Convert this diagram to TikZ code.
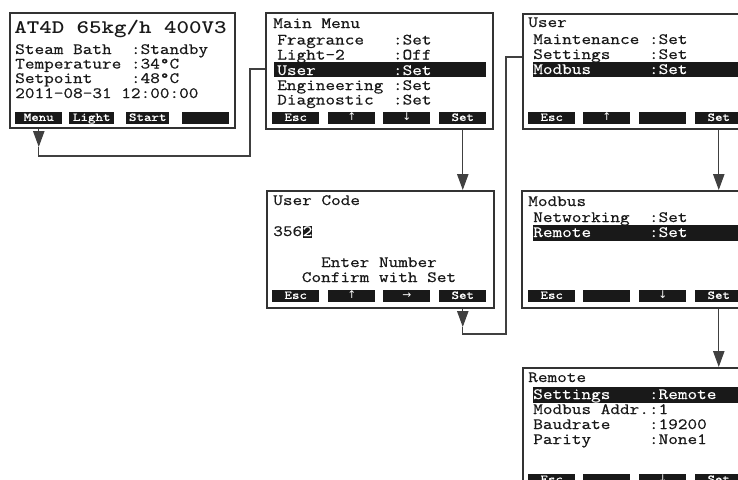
\documentclass[tikz,border=0pt]{standalone}
\usepackage{fontspec}
\newfontfamily\lcd[FakeStretch=1.19,FakeBold=0.6]{Latin Modern Mono}
\newfontfamily\lcdb[FakeStretch=1.24]{lmmonolt10-bold.otf}
\newfontfamily\lcdbtn[FakeStretch=1.19,FakeBold=0.5]{Latin Modern Mono}
\newfontfamily\arrfont{DejaVu Sans}
\usetikzlibrary{arrows.meta}
\newcommand\lcdN{\lcd\fontsize{11.8pt}{14pt}\selectfont}
\newcommand\lcdT{\lcdb\fontsize{14.4pt}{18pt}\selectfont}
\newcommand\lcdB{\lcdbtn\fontsize{9pt}{11pt}\selectfont}
\newcommand\arr[1]{{\arrfont\fontsize{8pt}{10pt}\selectfont #1}}
\begin{document}
\begin{tikzpicture}[x=0.75pt,y=-0.75pt,
 screen/.style={draw=black!80, line width=1.3pt, fill=white, anchor=north west, inner sep=0pt, minimum width=170.25pt},
 btn/.style={fill=black!90, text=white, font=\lcdB, inner sep=0pt, minimum height=8.6pt, minimum width=35.25pt, anchor=north west, text height=5.6pt, text depth=1.2pt},
 txt/.style={anchor=base west, inner sep=0pt, font=\lcdN, text=black!90},
 wtxt/.style={txt, text=white},
 hl/.style={fill=black!90},
 conn/.style={draw=black!75, line width=1pt},
 tip/.style={-{Triangle[length=12pt,width=8.5pt]}}
]
\useasboundingbox (0,0) rectangle (738,479);
\clip (0,0) rectangle (738,479);

% screens
\node[screen, minimum width=168.75pt, minimum height=86.25pt] (b1) at (9,12) {};
\node[screen, minimum height=87pt] (mm) at (265,12) {};
\node[screen, minimum height=86.25pt] (user) at (522,13) {};
\node[screen, minimum height=87.75pt] (code) at (266,190) {};
\node[screen, minimum height=87.75pt] (modbus) at (521,190) {};
\node[screen, minimum height=95pt] (remote) at (522,367) {};

% highlight bars
\fill[hl] (274,62) rectangle (486,77);
\fill[hl] (533,62) rectangle (750,77);
\fill[hl] (533,225) rectangle (750,241);
\fill[hl] (533,387) rectangle (750,403);

% buttons
\node[btn] (b1menu) at (15,112) {Menu};
\node[btn, minimum width=33.75pt] (b1light) at (69,112) {Light};
\node[btn, minimum width=32.25pt] (b1start) at (126,112) {Start};
\node[btn] (b1blank) at (182,112) {};

\node[btn] (mmesc) at (272,112) {Esc};
\node[btn] (mmup) at (328,112) {\arr{↑}};
\node[btn] (mmdown) at (383,112) {\arr{↓}};
\node[btn] (mmset) at (439,112) {Set};

\node[btn] (codeesc) at (272,290) {Esc};
\node[btn] (codeup) at (328,290) {\arr{↑}};
\node[btn] (coderight) at (383,290) {\arr{→}};
\node[btn] (codeset) at (439,290) {Set};

\node[btn] (useresc) at (528,112) {Esc};
\node[btn] (userup) at (583,112) {\arr{↑}};
\node[btn] (userblank) at (639,112) {};
\node[btn] (userset) at (695,112) {Set};

\node[btn] (modbusesc) at (528,290) {Esc};
\node[btn] (modbusblank) at (583,290) {};
\node[btn] (modbusdown) at (639,290) {\arr{↓}};
\node[btn] (modbusset) at (695,290) {Set};

\node[btn] (remoteesc) at (528,474) {Esc};
\node[btn] (remoteblank) at (583,474) {};
\node[btn] (remotedown) at (639,474) {\arr{↓}};
\node[btn] (remoteset) at (695,474) {Set};

% texts: start screen
\node[txt, font=\lcdT] (t1a) at (14,33) {AT4D 65kg/h 400V3};
\node[txt] (t1b) at (15,54) {Steam Bath~~:Standby};
\node[txt] (t1c) at (15,68.5) {Temperature~:34°C};
\node[txt] (t1d) at (15,83) {Setpoint~~~~:48°C};
\node[txt] (t1e) at (15,98) {2011-08-31 12:00:00};

% main menu
\node[txt] (t2a) at (273,28) {Main Menu};
\node[txt] (t2b) at (277,44.5) {Fragrance~~~:Set};
\node[txt] (t2c) at (277,59.5) {Light-2~~~~~:Off};
\node[wtxt] (t2d) at (277,75) {User~~~~~~~~:Set};
\node[txt] (t2e) at (277,90) {Engineering~:Set};
\node[txt] (t2f) at (277,104.5) {Diagnostic~~:Set};

% user
\node[txt] (t3a) at (528,27) {User};
\node[txt] (t3b) at (533,44) {Maintenance~:Set};
\node[txt] (t3c) at (533,59) {Settings~~~~:Set};
\node[wtxt] (t3d) at (533,74) {Modbus~~~~~~:Set};

% user code
\node[txt] (t4a) at (273,205) {User Code};
\node[txt] (t4b) at (273,236) {356};
\node[txt, fill=black!90, text=white, text height=7.6pt, text depth=1.4pt] (t4c) at (t4b.base east) {2};
\node[txt, anchor=base] (t4d) at (379,267) {Enter Number};
\node[txt, anchor=base] (t4e) at (379,282) {Confirm with Set};

% modbus
\node[txt] (t5a) at (528,206) {Modbus};
\node[txt] (t5b) at (533,222) {Networking~~:Set};
\node[wtxt] (t5c) at (533,237) {Remote~~~~~~:Set};

% remote
\node[txt] (t6a) at (528,382) {Remote};
\node[wtxt] (t6b) at (533,399) {Settings~~~~:Remote};
\node[txt] (t6c) at (533,414) {Modbus Addr.:1};
\node[txt] (t6d) at (533,429) {Baudrate~~~~:19200};
\node[txt] (t6e) at (533,444) {Parity~~~~~~:None1};

% connectors
\coordinate (a1) at (0,147);
\coordinate (k1) at (0,156);
\coordinate (k2) at (250,69);
\draw[conn,tip] (b1menu.south |- b1.south) -- (b1menu.south |- a1);
\draw[conn] (b1menu.south |- a1) -- (b1menu.south |- k1) -- (k2 |- k1) -- (k2) -- (k2 -| mm.west);

\draw[conn,tip] (mmset.south |- mm.south) -- (mmset.south |- code.north);

\coordinate (a2) at (0,327);
\coordinate (k3) at (506,334);
\coordinate (k4) at (506,57);
\draw[conn,tip] (codeset.south |- code.south) -- (codeset.south |- a2);
\draw[conn] (codeset.south |- a2) -- (codeset.south |- k3) -- (k3) -- (k4) -- (k4 -| user.west);

\draw[conn,tip] (userset.south |- user.south) -- (userset.south |- modbus.north);
\draw[conn,tip] (modbusset.south |- modbus.south) -- (modbusset.south |- remote.north);
\end{tikzpicture}
\end{document}
